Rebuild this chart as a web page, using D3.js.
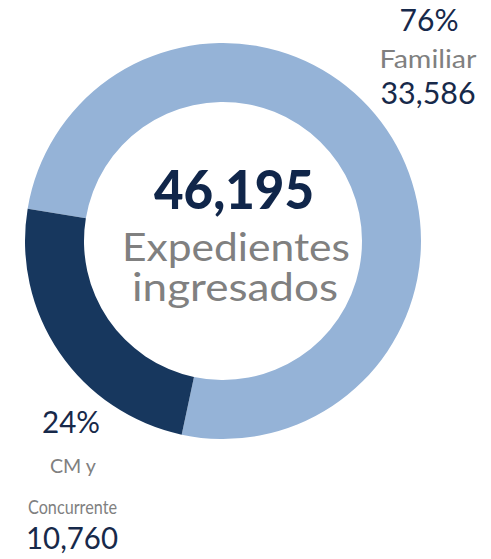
<!DOCTYPE html>
<html>
<head>
<meta charset="utf-8">
<script src="https://cdn.jsdelivr.net/npm/d3@7"></script>
<style>
  html, body { margin: 0; padding: 0; background: #ffffff; }
  svg { display: block; }
  text { font-family: Lato, "Open Sans", sans-serif; }
</style>
</head>
<body>
<div id="chart"></div>
<script>
// Case types and their counts
const categories = ["Familiar", "CM y Concurrente"];
const values = [33586, 10760];
const colors = ["#95b3d7", "#17375e"];
// Headline figure shown in the middle of the ring
const totalLabel = "46,195";
const centerLines = ["Expedientes", "ingresados"];

const width = 491, height = 559;
const cx = 223, cy = 241;
const outerR = 198, innerR = 139;

const svg = d3.select("#chart").append("svg")
  .attr("width", width).attr("height", height);

const startDeg = -80.6;
const pie = d3.pie().sort(null)
  .startAngle(startDeg * Math.PI / 180)
  .endAngle(startDeg * Math.PI / 180 + 2 * Math.PI);
const arc = d3.arc().innerRadius(innerR).outerRadius(outerR);

const data = categories.map((c, i) => ({ name: c, value: values[i], color: colors[i] }));
const arcs = pie.value(d => d.value)(data);

svg.append("g").attr("transform", `translate(${cx},${cy})`)
  .selectAll("path").data(arcs).join("path")
  .attr("d", arc)
  .attr("fill", d => d.data.color);

const total = d3.sum(values);
const pct = d3.format(".0%");
const num = d3.format(",");

const dark = "#17294a";
const grey = "#808080";

function label(x, y, txt, size, fill, len, weight) {
  const t = svg.append("text")
    .attr("x", x).attr("y", y)
    .attr("text-anchor", "middle")
    .attr("font-size", size)
    .attr("font-weight", weight || 400)
    .attr("fill", fill)
    .text(txt);
  if (len) t.attr("textLength", len).attr("lengthAdjust", "spacingAndGlyphs");
  return t;
}

// Centre text
label(234, 209, totalLabel, 53, "#10264a", 160, 900);
label(236, 261, centerLines[0], 39, grey, 228);
label(235, 301, centerLines[1], 39, grey, 206);

// Familiar label (top right)
label(429, 31, pct(values[0] / total), 30, dark, 59);
label(428, 68, "Familiar", 25, grey, 97);
label(428, 104, num(values[0]), 31, dark, 95);

// CM y Concurrente label (bottom left)
label(71, 433, pct(values[1] / total), 30, dark, 58);
label(73, 473, "CM y", 20, grey, 46);
label(72.5, 514, "Concurrente", 20, grey, 89);
label(72, 549, num(values[1]), 31, dark, 92);
</script>
</body>
</html>
